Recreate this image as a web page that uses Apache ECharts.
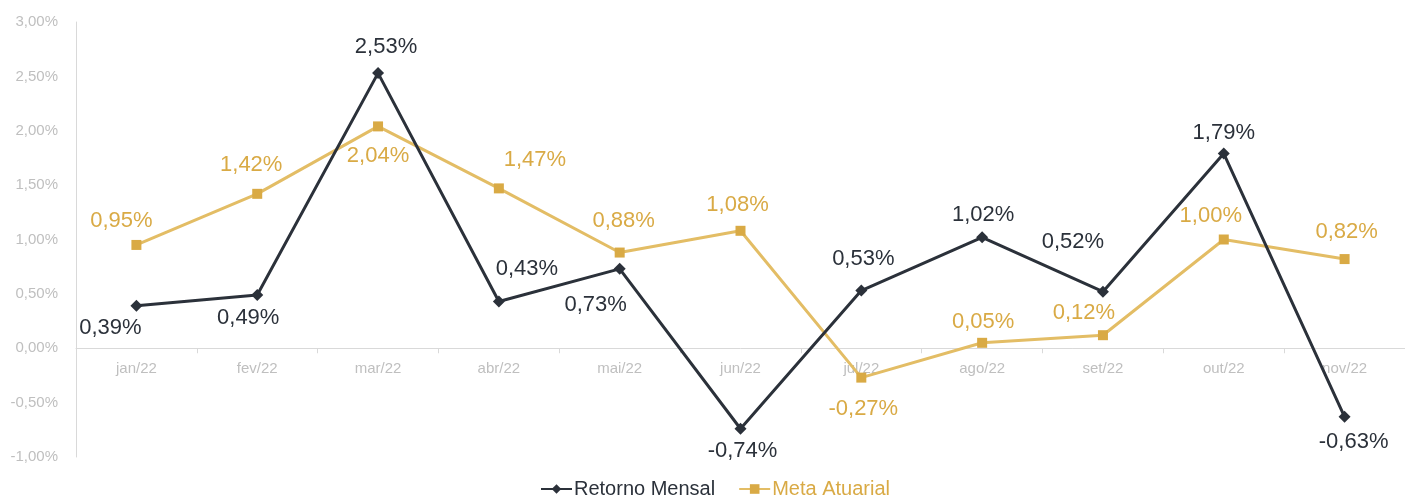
<!DOCTYPE html>
<html>
<head>
<meta charset="utf-8">
<script src="https://cdn.jsdelivr.net/npm/echarts@6/dist/echarts.min.js"></script>
<style>
  html, body { margin: 0; padding: 0; background: #fff; }
  #chart { width: 1405px; height: 497px; }
</style>
</head>
<body>
<div id="chart"></div>
<script>
  // dados
  const meses = ["jan/22", "fev/22", "mar/22", "abr/22", "mai/22", "jun/22", "jul/22", "ago/22", "set/22", "out/22", "nov/22"];
  const retornoMensal = [0.39, 0.49, 2.53, 0.43, 0.73, -0.74, 0.53, 1.02, 0.52, 1.79, -0.63];
  const metaAtuarial = [0.95, 1.42, 2.04, 1.47, 0.88, 1.08, -0.27, 0.05, 0.12, 1.00, 0.82];

  // deslocamento dos rótulos (px) em relação ao ponto
  const offRetorno = [[-26, 22], [-9, 23], [8, -26], [28, -33], [-24, 36], [2, 22], [2, -32], [1, -22], [-30, -50], [0, -21], [9, 25]];
  const offMeta = [[-15, -24], [-6, -29], [0, 30], [36, -28], [4, -32], [-3, -26], [2, 31], [1, -21], [-19, -22], [-13, -24], [2, -27]];

  const corRetorno = "#2b313a";
  const corMeta = "#e3bd65";
  const corMetaMarca = "#d9aa45";
  const corTextoMeta = "#d9aa45";
  const fonte = "'Liberation Sans', Arial, sans-serif";

  const yMin = -1, yMax = 3;
  const gridTop = 22, gridBottom = 40, altura = 497;

  const fmt = v => v.toFixed(2).replace(".", ",") + "%";

  const montar = (vals, offs) => vals.map((v, i) => ({
    value: v,
    label: { offset: offs[i] }
  }));

  // eixo x fica na linha do zero (rótulos inclusive)
  const alturaPlot = altura - gridTop - gridBottom;
  const deslocX = -alturaPlot * (0 - yMin) / (yMax - yMin);

  const myChart = echarts.init(document.getElementById("chart"));

  const option = {
    animation: false,
    textStyle: { fontFamily: fonte },
    grid: {
      left: 76,
      right: -7,
      top: gridTop,
      bottom: gridBottom,
      containLabel: false
    },
    legend: {
      top: 474,
      left: 535,
      itemWidth: 31,
      itemHeight: 12,
      itemGap: 23,
      textStyle: { fontSize: 20, fontFamily: fonte, padding: [0, 0, 0, -3] },
      data: [
        { name: "Retorno Mensal", textStyle: { color: corRetorno } },
        { name: "Meta Atuarial", textStyle: { color: corTextoMeta } }
      ]
    },
    xAxis: {
      type: "category",
      data: meses,
      boundaryGap: true,
      position: "bottom",
      offset: deslocX,
      axisLine: { onZero: false, lineStyle: { color: "#d9d9d9", width: 1 } },
      axisTick: { show: true, length: 5, lineStyle: { color: "#d9d9d9" } },
      axisLabel: { color: "#bfbfbf", fontSize: 15, margin: 13, fontFamily: fonte },
      splitLine: { show: false }
    },
    yAxis: {
      type: "value",
      min: yMin,
      max: yMax,
      interval: 0.5,
      axisLine: { show: true, lineStyle: { color: "#d9d9d9" } },
      axisTick: { show: false },
      splitLine: { show: false },
      axisLabel: {
        color: "#bfbfbf",
        fontSize: 15,
        margin: 18,
        fontFamily: fonte,
        formatter: v => fmt(v)
      }
    },
    series: [
      {
        name: "Retorno Mensal",
        type: "line",
        data: montar(retornoMensal, offRetorno),
        symbol: "diamond",
        symbolSize: 12,
        z: 3,
        lineStyle: { color: corRetorno, width: 3 },
        itemStyle: { color: corRetorno },
        label: {
          show: true,
          position: "inside",
          color: corRetorno,
          fontSize: 22,
          fontFamily: fonte,
          formatter: p => fmt(p.value)
        }
      },
      {
        name: "Meta Atuarial",
        type: "line",
        data: montar(metaAtuarial, offMeta),
        symbol: "rect",
        symbolSize: 10,
        z: 2,
        lineStyle: { color: corMeta, width: 3 },
        itemStyle: { color: corMetaMarca },
        label: {
          show: true,
          position: "inside",
          color: corTextoMeta,
          fontSize: 22,
          fontFamily: fonte,
          formatter: p => fmt(p.value)
        }
      }
    ]
  };

  myChart.setOption(option);
</script>
</body>
</html>
